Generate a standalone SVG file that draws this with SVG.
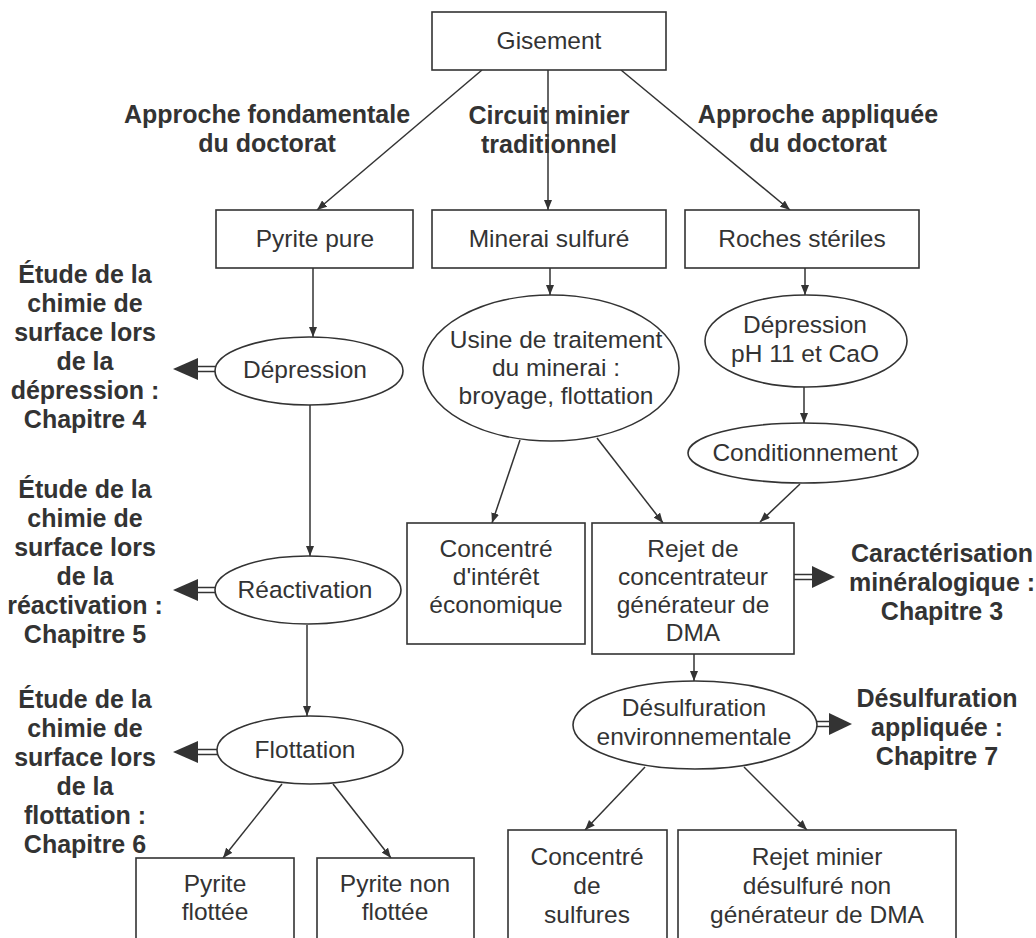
<svg xmlns="http://www.w3.org/2000/svg" width="1036" height="938" viewBox="0 0 1036 938">
<defs>
<style>
.bx{fill:#fff;stroke:#333;stroke-width:1.6}
.t{font-family:"Liberation Sans",Arial,sans-serif;font-size:24.5px;fill:#333;text-anchor:middle}
.b{font-family:"Liberation Sans",Arial,sans-serif;font-size:25px;font-weight:bold;fill:#333;text-anchor:middle}
.ln{stroke:#333;stroke-width:1.5;fill:none}
.hd{fill:#333}
</style>
<marker id="ah" viewBox="0 0 10 8" refX="10" refY="4" markerWidth="10" markerHeight="8" markerUnits="userSpaceOnUse" orient="auto">
<path d="M0,0 L10,4 L0,8 z" fill="#333"/>
</marker>
</defs>
<rect width="1036" height="938" fill="#fff"/>

<g id="connectors" class="ln" marker-end="url(#ah)">
<line x1="482" y1="70" x2="317" y2="210"/>
<line x1="548" y1="70" x2="548" y2="210"/>
<line x1="621" y1="70" x2="790" y2="210"/>
<line x1="313" y1="268" x2="313" y2="337"/>
<line x1="310" y1="405" x2="310" y2="556"/>
<line x1="307" y1="625" x2="307" y2="716"/>
<line x1="282" y1="784" x2="223" y2="858"/>
<line x1="333" y1="784" x2="391" y2="858"/>
<line x1="550" y1="268" x2="550" y2="295"/>
<line x1="520" y1="440" x2="492" y2="523"/>
<line x1="597" y1="438" x2="663" y2="523"/>
<line x1="805" y1="268" x2="805" y2="295"/>
<line x1="804" y1="387" x2="804" y2="423"/>
<line x1="800" y1="484" x2="760" y2="522"/>
<line x1="694" y1="654" x2="694" y2="681"/>
<line x1="645" y1="767" x2="585" y2="830"/>
<line x1="744" y1="767" x2="807" y2="830"/>
</g>

<g id="double-arrows">
<g id="da-depression">
<line class="ln" x1="197" y1="366.5" x2="216" y2="366.5"/>
<line class="ln" x1="197" y1="371.5" x2="216" y2="371.5"/>
<polygon class="hd" points="173,369 198,358 198,380"/>
</g>
<g id="da-reactivation">
<line class="ln" x1="197" y1="587.5" x2="216" y2="587.5"/>
<line class="ln" x1="197" y1="592.5" x2="216" y2="592.5"/>
<polygon class="hd" points="173,590 198,579 198,601"/>
</g>
<g id="da-flottation">
<line class="ln" x1="197" y1="749.5" x2="218" y2="749.5"/>
<line class="ln" x1="197" y1="754.5" x2="218" y2="754.5"/>
<polygon class="hd" points="173,752 198,741 198,763"/>
</g>
<g id="da-rejet">
<line class="ln" x1="794" y1="574.5" x2="813" y2="574.5"/>
<line class="ln" x1="794" y1="579.5" x2="813" y2="579.5"/>
<polygon class="hd" points="835,577 812,566 812,588"/>
</g>
<g id="da-desulf">
<line class="ln" x1="816" y1="721.5" x2="830" y2="721.5"/>
<line class="ln" x1="816" y1="726.5" x2="830" y2="726.5"/>
<polygon class="hd" points="852,724 829,713 829,735"/>
</g>
</g>

<g id="gisement"><rect class="bx" x="432" y="12" width="234" height="58"/><text class="t" x="549" y="49">Gisement</text></g>

<g id="label-fondamentale"><text class="b" x="267" y="123">Approche fondamentale</text><text class="b" x="267" y="152">du doctorat</text></g>
<g id="label-circuit"><text class="b" x="549" y="124">Circuit minier</text><text class="b" x="549" y="153">traditionnel</text></g>
<g id="label-appliquee"><text class="b" x="818" y="123">Approche appliquée</text><text class="b" x="818" y="152">du doctorat</text></g>

<g id="pyrite-pure"><rect class="bx" x="216" y="210" width="197" height="58"/><text class="t" x="315" y="247">Pyrite pure</text></g>
<g id="minerai"><rect class="bx" x="432" y="210" width="234" height="58"/><text class="t" x="549" y="247">Minerai sulfuré</text></g>
<g id="roches"><rect class="bx" x="685" y="210" width="234" height="58"/><text class="t" x="802" y="247">Roches stériles</text></g>

<g id="depression"><ellipse class="bx" cx="309" cy="371" rx="94" ry="34"/><text class="t" x="305" y="378">Dépression</text></g>
<g id="reactivation"><ellipse class="bx" cx="308" cy="590" rx="93" ry="34"/><text class="t" x="305" y="598">Réactivation</text></g>
<g id="flottation"><ellipse class="bx" cx="310" cy="750" rx="93" ry="34"/><text class="t" x="305" y="758">Flottation</text></g>

<g id="label-ch4"><text class="b" x="85" y="283">Étude de la</text><text class="b" x="85" y="312">chimie de</text><text class="b" x="85" y="341">surface lors</text><text class="b" x="85" y="370">de la</text><text class="b" x="85" y="399">dépression :</text><text class="b" x="85" y="428">Chapitre 4</text></g>
<g id="label-ch5"><text class="b" x="85" y="498">Étude de la</text><text class="b" x="85" y="527">chimie de</text><text class="b" x="85" y="556">surface lors</text><text class="b" x="85" y="585">de la</text><text class="b" x="85" y="614">réactivation :</text><text class="b" x="85" y="643">Chapitre 5</text></g>
<g id="label-ch6"><text class="b" x="85" y="708">Étude de la</text><text class="b" x="85" y="737">chimie de</text><text class="b" x="85" y="766">surface lors</text><text class="b" x="85" y="795">de la</text><text class="b" x="85" y="824">flottation :</text><text class="b" x="85" y="853">Chapitre 6</text></g>

<g id="pyrite-flottee"><rect class="bx" x="136" y="858" width="158" height="90"/><text class="t" x="215" y="892">Pyrite</text><text class="t" x="215" y="920">flottée</text></g>
<g id="pyrite-non-flottee"><rect class="bx" x="317" y="858" width="157" height="90"/><text class="t" x="395" y="892">Pyrite non</text><text class="t" x="395" y="920">flottée</text></g>

<g id="usine"><ellipse class="bx" cx="551" cy="368" rx="128" ry="73"/><text class="t" x="556" y="348">Usine de traitement</text><text class="t" x="556" y="376">du minerai :</text><text class="t" x="556" y="404">broyage, flottation</text></g>
<g id="depression-ph"><ellipse class="bx" cx="806" cy="341" rx="101" ry="46"/><text class="t" x="805" y="333">Dépression</text><text class="t" x="805" y="362">pH 11 et CaO</text></g>
<g id="conditionnement"><ellipse class="bx" cx="803" cy="453" rx="115" ry="30"/><text class="t" x="805" y="461">Conditionnement</text></g>

<g id="concentre"><rect class="bx" x="407" y="523" width="178" height="121"/><text class="t" x="496" y="557">Concentré</text><text class="t" x="496" y="585">d'intérêt</text><text class="t" x="496" y="613">économique</text></g>
<g id="rejet"><rect class="bx" x="592" y="523" width="202" height="131"/><text class="t" x="693" y="557">Rejet de</text><text class="t" x="693" y="585">concentrateur</text><text class="t" x="693" y="613">générateur de</text><text class="t" x="693" y="641">DMA</text></g>
<g id="label-ch3"><text class="b" x="942" y="562">Caractérisation</text><text class="b" x="942" y="591">minéralogique :</text><text class="b" x="942" y="620">Chapitre 3</text></g>

<g id="desulfuration"><ellipse class="bx" cx="695" cy="725" rx="122" ry="44"/><text class="t" x="694" y="716">Désulfuration</text><text class="t" x="694" y="745">environnementale</text></g>
<g id="label-ch7"><text class="b" x="937" y="707">Désulfuration</text><text class="b" x="937" y="736">appliquée :</text><text class="b" x="937" y="765">Chapitre 7</text></g>

<g id="concentre-sulfures"><rect class="bx" x="508" y="830" width="159" height="120"/><text class="t" x="587" y="865">Concentré</text><text class="t" x="587" y="894">de</text><text class="t" x="587" y="923">sulfures</text></g>
<g id="rejet-minier"><rect class="bx" x="678" y="830" width="278" height="120"/><text class="t" x="817" y="865">Rejet minier</text><text class="t" x="817" y="894">désulfuré non</text><text class="t" x="817" y="923">générateur de DMA</text></g>
</svg>
